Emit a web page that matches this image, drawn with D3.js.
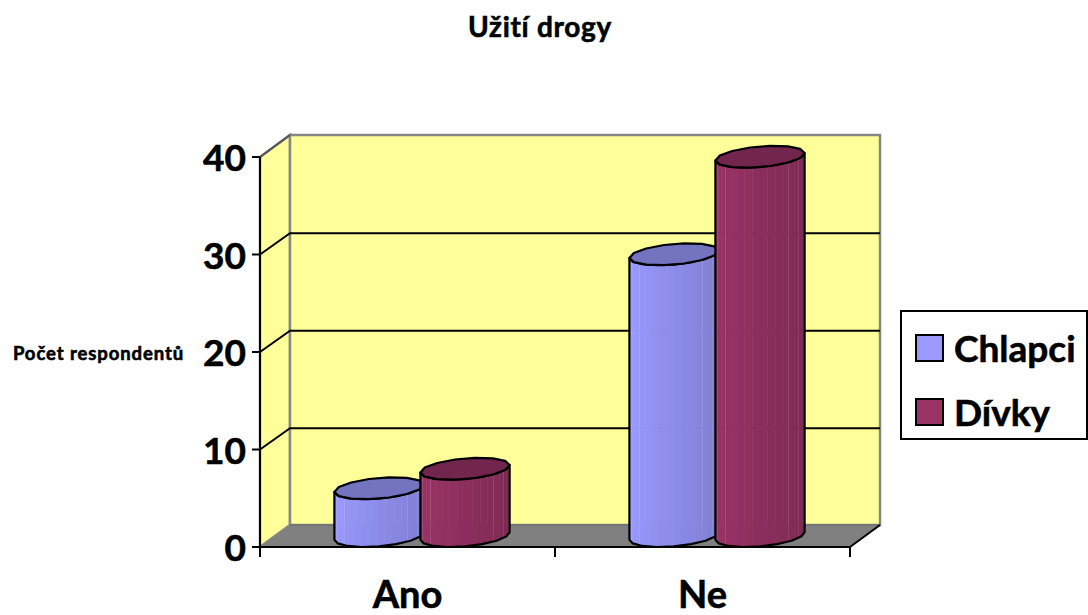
<!DOCTYPE html>
<html><head><meta charset="utf-8">
<script src="https://d3js.org/d3.v7.min.js"></script>
<style>html,body{margin:0;background:#fff}svg{display:block}text{font-family:Lato,sans-serif;font-weight:700;fill:#000}</style>
</head><body><svg id="c" width="1088" height="615"></svg>
<script>
const categories=["Ano","Ne"];
const seriesNames=["Chlapci","Dívky"];
const chlapci=[5,29];
const divky=[7,39];
const yTicks=[0,10,20,30,40];
const seriesColors=["#9999FF","#993366"];
const topColors=["#7373BF","#73264D"];
const titleText="Užití drogy";
const yLabel="Počet respondentů";

const svg=d3.select("#c");
const x0=260,x1=850,yB=547,yT=157,dx=30,dy=22;
const y=d3.scaleLinear().domain([0,40]).range([yB,yT]);
const xc=d3.scaleBand().domain(categories).range([x0,x1]);
const xs=d3.scaleBand().domain([0,1]).range([75,247]);

// walls and floor
const line=d3.line();
svg.append("path").attr("d",line([[x0,yT],[x0+dx,yT-dy],[x0+dx,yB-dy],[x0,yB]])+"Z").attr("fill","#FFFF99").attr("stroke","#868686").attr("stroke-width",2.5);
svg.append("rect").attr("x",x0+dx).attr("y",yT-dy).attr("width",x1-x0).attr("height",yB-yT).attr("fill","#FFFF99").attr("stroke","#868686").attr("stroke-width",2.5);
svg.append("path").attr("d",line([[x0,yB],[x1,yB],[x1+dx,yB-dy],[x0+dx,yB-dy]])+"Z").attr("fill","#808080");
svg.append("path").attr("d",line([[x0+dx,yB-dy],[x1+dx,yB-dy]])).attr("stroke","#6f6f6f").attr("stroke-width",1.5);
svg.append("path").attr("d",line([[x1,yB],[x1+dx,yB-dy]])).attr("stroke","#000").attr("stroke-width",2).attr("fill","none");

// gridlines
yTicks.filter(t=>t>0).forEach(t=>{
  const v=y(t);
  if(t<40) svg.append("path").attr("d",line([[x0,v],[x0+dx,v-dy+0.7],[x1+dx,v-dy+0.7]])).attr("fill","none").attr("stroke","#000").attr("stroke-width",2);
  else svg.append("path").attr("d",line([[x0,v],[x0+dx,v-dy]])).attr("fill","none").attr("stroke","#555").attr("stroke-width",2);
});

// cylinders
const rx=42,bx=15,by=11,N=18;
function pt(c,t){return [c[0]+rx*Math.cos(t)+bx*Math.sin(t),c[1]-by*Math.sin(t)];}
const loop=d3.line().curve(d3.curveLinearClosed);
const tStart=Math.atan2(bx,rx)+Math.PI; // left extreme
function cyl(cat,si,val){
  const g=svg.append("g");
  const cx=xc(cat)+xs(si)+xs.bandwidth()/2+1;
  const base=[cx,yB-11],top=[cx,y(val)-10];
  const col=d3.color(seriesColors[si]);
  for(let i=0;i<N;i++){
    const a=tStart+Math.PI*i/N,b=tStart+Math.PI*(i+1)/N;
    const A=pt(base,a),B=pt(base,b),C=pt(top,b),D=pt(top,a);
    const f=d3.interpolateRgb(col,col.darker(0.62))(i<3?0:(i-2)/(N-3));
    g.append("path").attr("d",line([A,B,C,D])+"Z").attr("fill",f).attr("stroke",f).attr("stroke-width",0.6);
    if(i===1||i===3||i===12||i===14||i===16)
      g.append("path").attr("d",line([B,C])).attr("stroke","#fff").attr("stroke-opacity",0.35).attr("stroke-width",1);
  }
  const M=8;
  const lower=d3.range(M+1).map(i=>pt(base,tStart+Math.PI*i/M));
  const upper=d3.range(M+1).map(i=>pt(top,tStart+Math.PI*i/M));
  g.append("path").attr("d",line([...lower,...upper.slice().reverse()])+"Z").attr("fill","none").attr("stroke","#000").attr("stroke-width",2.2).attr("stroke-linejoin","round");
  g.append("path").attr("d",loop(d3.range(14).map(i=>pt(top,tStart+2*Math.PI*i/14)))).attr("fill",topColors[si]).attr("stroke","#000").attr("stroke-width",2.2).attr("stroke-linejoin","round");
}
categories.forEach((c,i)=>{cyl(c,0,chlapci[i]);cyl(c,1,divky[i]);});

// axes
const heavy=s=>s.style("font-family","Lato,sans-serif").style("font-weight",700).attr("fill","#000").attr("stroke","#000").attr("stroke-width",0.6);
const ay=svg.append("g").attr("transform",`translate(${x0},2)`).call(d3.axisLeft(y).tickValues(yTicks).tickSize(0).tickPadding(14));
ay.select(".domain").remove();
heavy(ay.selectAll("text")).style("font-size","37px");
svg.append("path").attr("d",line([[x0,yT],[x0,yB]])).attr("stroke","#000").attr("stroke-width",2);
yTicks.forEach(t=>svg.append("path").attr("d",line([[x0-8,y(t)],[x0,y(t)]])).attr("stroke","#000").attr("stroke-width",2));
const ax=svg.append("g").attr("transform",`translate(0,${yB})`).call(d3.axisBottom(xc).tickSize(0).tickPadding(34));
ax.select(".domain").remove();
heavy(ax.selectAll("text")).style("font-size","38px");
svg.append("path").attr("d",line([[x0,yB],[x1,yB]])).attr("stroke","#000").attr("stroke-width",2.2);
[x0,(x0+x1)/2,x1].forEach(v=>svg.append("path").attr("d",line([[v,yB],[v,yB+10]])).attr("stroke","#000").attr("stroke-width",2));

// titles
heavy(svg.append("text").attr("x",540).attr("y",37).attr("text-anchor","middle").style("font-size","28px").style("letter-spacing","0.7px").attr("stroke-width",0.3).text(titleText));
heavy(svg.append("text").attr("x",98.5).attr("y",360).attr("text-anchor","middle").style("font-size","18.5px").style("letter-spacing","0.9px").attr("stroke-width",0.2).text(yLabel));

// legend
svg.append("rect").attr("x",901).attr("y",311).attr("width",186).attr("height",128).attr("fill","#fff").attr("stroke","#000").attr("stroke-width",2);
seriesNames.forEach((n,i)=>{
  const ly=348+i*64;
  svg.append("rect").attr("x",916).attr("y",ly-13).attr("width",27).attr("height",26).attr("fill",seriesColors[i]).attr("stroke","#000").attr("stroke-width",2);
  heavy(svg.append("text").attr("x",954).attr("y",ly+14).style("font-size","37px").text(n));
});
</script></body></html>
